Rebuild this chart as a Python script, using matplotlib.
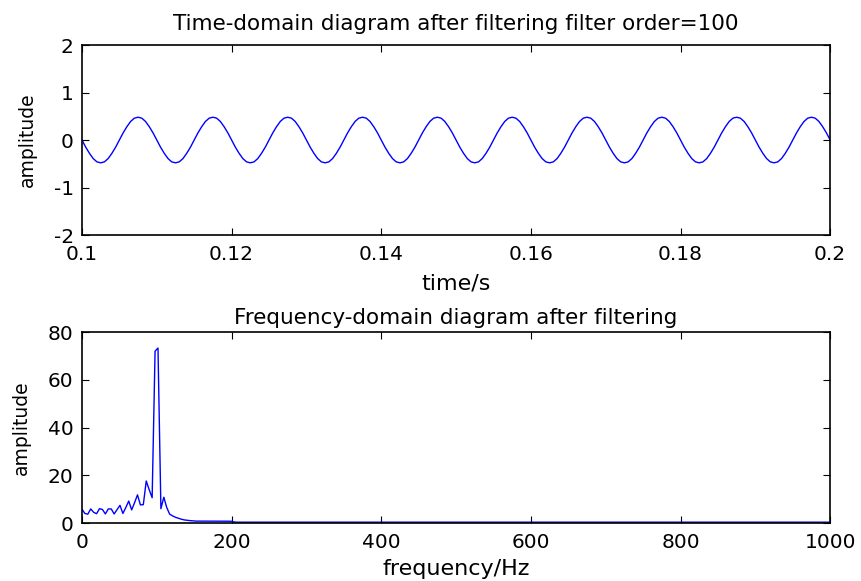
import matplotlib

matplotlib.use("Agg")
import matplotlib.pyplot as plt
import numpy as np

# filtered signal, sampled at 2000 Hz, t = 0.1 .. 0.2 s
amp_time = [
    0.0, -0.15, -0.28, -0.39, -0.46, -0.48, -0.46, -0.39, -0.28, -0.15,
    0.0, 0.15, 0.28, 0.39, 0.46, 0.48, 0.46, 0.39, 0.28, 0.15,
    0.0, -0.15, -0.28, -0.39, -0.46, -0.48, -0.46, -0.39, -0.28, -0.15,
    0.0, 0.15, 0.28, 0.39, 0.46, 0.48, 0.46, 0.39, 0.28, 0.15,
    0.0, -0.15, -0.28, -0.39, -0.46, -0.48, -0.46, -0.39, -0.28, -0.15,
    0.0, 0.15, 0.28, 0.39, 0.46, 0.48, 0.46, 0.39, 0.28, 0.15,
    0.0, -0.15, -0.28, -0.39, -0.46, -0.48, -0.46, -0.39, -0.28, -0.15,
    0.0, 0.15, 0.28, 0.39, 0.46, 0.48, 0.46, 0.39, 0.28, 0.15,
    0.0, -0.15, -0.28, -0.39, -0.46, -0.48, -0.46, -0.39, -0.28, -0.15,
    0.0, 0.15, 0.28, 0.39, 0.46, 0.48, 0.46, 0.39, 0.28, 0.15,
    0.0, -0.15, -0.28, -0.39, -0.46, -0.48, -0.46, -0.39, -0.28, -0.15,
    0.0, 0.15, 0.28, 0.39, 0.46, 0.48, 0.46, 0.39, 0.28, 0.15,
    0.0, -0.15, -0.28, -0.39, -0.46, -0.48, -0.46, -0.39, -0.28, -0.15,
    0.0, 0.15, 0.28, 0.39, 0.46, 0.48, 0.46, 0.39, 0.28, 0.15,
    0.0, -0.15, -0.28, -0.39, -0.46, -0.48, -0.46, -0.39, -0.28, -0.15,
    0.0, 0.15, 0.28, 0.39, 0.46, 0.48, 0.46, 0.39, 0.28, 0.15,
    0.0, -0.15, -0.28, -0.39, -0.46, -0.48, -0.46, -0.39, -0.28, -0.15,
    0.0, 0.15, 0.28, 0.39, 0.46, 0.48, 0.46, 0.39, 0.28, 0.15,
    0.0, -0.15, -0.28, -0.39, -0.46, -0.48, -0.46, -0.39, -0.28, -0.15,
    0.0, 0.15, 0.28, 0.39, 0.46, 0.48, 0.46, 0.39, 0.28, 0.15,
    0.0,
]
t_start, t_end = 0.1, 0.2

# spectrum (bin spacing 2000/512 Hz near the peak, sparse on the flat tail)
freq = [
    0.0, 3.9, 7.8, 11.7, 15.6, 19.5, 23.4, 27.3, 31.3, 35.2,
    39.1, 43.0, 46.9, 50.8, 54.7, 58.6, 62.5, 66.4, 70.3, 74.2,
    78.1, 82.0, 85.9, 89.8, 93.8, 97.7, 101.6, 105.5, 109.4, 113.3,
    117.2, 121.1, 125.0, 128.9, 132.8, 136.7, 140.6, 144.5, 148.4, 152.3,
    199.2, 203.1, 207.0, 1000.0,
]
amp_freq = [
    5.8, 4.0, 3.7, 5.9, 4.5, 3.9, 6.0, 5.7, 3.8, 5.9,
    5.9, 3.8, 5.6, 7.4, 4.0, 6.5, 9.2, 5.5, 8.5, 11.8,
    7.6, 7.7, 17.6, 14.0, 10.6, 72.0, 73.3, 6.0, 10.8, 6.5,
    3.7, 3.0, 2.4, 2.0, 1.6, 1.3, 1.15, 1.0, 0.9, 0.8,
    0.75, 0.45, 0.35, 0.35,
]

time_ticks = [0.1, 0.12, 0.14, 0.16, 0.18, 0.2]
time_tick_labels = ["0.1", "0.12", "0.14", "0.16", "0.18", "0.2"]
freq_ticks = [0, 200, 400, 600, 800, 1000]

plt.rcParams["font.family"] = ["DejaVu Sans"]
plt.rcParams["axes.unicode_minus"] = False
plt.rcParams["xtick.direction"] = "in"
plt.rcParams["ytick.direction"] = "in"
plt.rcParams["xtick.top"] = True
plt.rcParams["ytick.right"] = True

fig = plt.figure(figsize=(8.61, 5.81), dpi=100)
ax1 = fig.add_axes([0.0952, 0.5955, 0.869, 0.327])
ax2 = fig.add_axes([0.0952, 0.0998, 0.869, 0.3287])

t = np.linspace(t_start, t_end, len(amp_time))
ax1.plot(t, amp_time, color="#0000ff", linewidth=1.0)
ax1.set_xlim(0.1, 0.2)
ax1.set_ylim(-2, 2)
ax1.set_xticks(time_ticks)
ax1.set_xticklabels(time_tick_labels)
ax1.set_yticks([-2, -1, 0, 1, 2])
ax1.set_title("Time-domain diagram after filtering filter order=100", fontsize=15.5, pad=10.5)
ax1.set_xlabel("time/s", fontsize=16, labelpad=7)
ax1.set_ylabel("amplitude", fontsize=13.5, labelpad=12)

ax2.plot(freq, amp_freq, color="#0000ff", linewidth=1.0)
ax2.set_xlim(0, 1000)
ax2.set_ylim(0, 80)
ax2.set_xticks(freq_ticks)
ax2.set_yticks([0, 20, 40, 60, 80])
ax2.set_title("Frequency-domain diagram after filtering", fontsize=15.5, pad=6)
ax2.set_xlabel("frequency/Hz", fontsize=16, labelpad=5)
ax2.set_ylabel("amplitude", fontsize=13.5, labelpad=12)

for ax in (ax1, ax2):
    ax.tick_params(labelsize=14.5, length=5, width=0.8)
    ax.tick_params(axis="x", pad=7)
    ax.tick_params(axis="y", pad=6)
    for s in ax.spines.values():
        s.set_linewidth(1.2)

fig.savefig("out.png", dpi=100)
